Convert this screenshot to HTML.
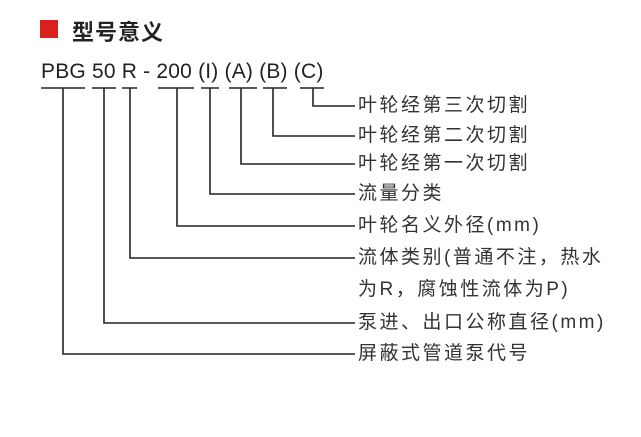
<!DOCTYPE html>
<html><head><meta charset="utf-8"><style>
body{margin:0;width:641px;height:437px;background:#fff;overflow:hidden;position:relative;font-family:"Liberation Sans","Noto Sans CJK SC",sans-serif;color:#222}
.t{position:absolute;left:358px;font-size:19px;letter-spacing:2.5px;line-height:20px;white-space:nowrap;color:#333}
</style></head><body>
<div style="position:absolute;left:40px;top:20px;width:18px;height:18px;background:#d9201c"></div>
<div style="position:absolute;left:72px;top:15px;font-size:22px;font-weight:bold;font-family:'Noto Sans CJK SC',sans-serif;letter-spacing:1px;color:#222">型号意义</div>
<div style="position:absolute;left:41px;top:60px;font-size:21px;letter-spacing:0.2px;line-height:24px;color:#222;white-space:nowrap">PBG 50 R - 200 (I) (A) (B) (C)</div>
<svg width="641" height="437" style="position:absolute;left:0;top:0" fill="none" stroke="#222" stroke-width="1.6">
<path d="M41 88H85M92 88H116M122 88H137M158 88H194M201 88H219M229 88H257M263 88H287M300 88H324"/>
<path d="M63 88V354H355"/>
<path d="M104 88V323H355"/>
<path d="M130 88V258H355"/>
<path d="M177 88V226H355"/>
<path d="M210 88V194H355"/>
<path d="M241 88V164H355"/>
<path d="M273 88V136H355"/>
<path d="M313 88V106H355"/>
</svg>
<div class="t" style="top:96px">叶轮经第三次切割</div>
<div class="t" style="top:126px">叶轮经第二次切割</div>
<div class="t" style="top:154px">叶轮经第一次切割</div>
<div class="t" style="top:184px">流量分类</div>
<div class="t" style="top:216px">叶轮名义外径(mm)</div>
<div class="t" style="top:248px">流体类别(普通不注，热水</div>
<div class="t" style="top:280px">为R，腐蚀性流体为P)</div>
<div class="t" style="top:313px">泵进、出口公称直径(mm)</div>
<div class="t" style="top:344px">屏蔽式管道泵代号</div>
</body></html>
